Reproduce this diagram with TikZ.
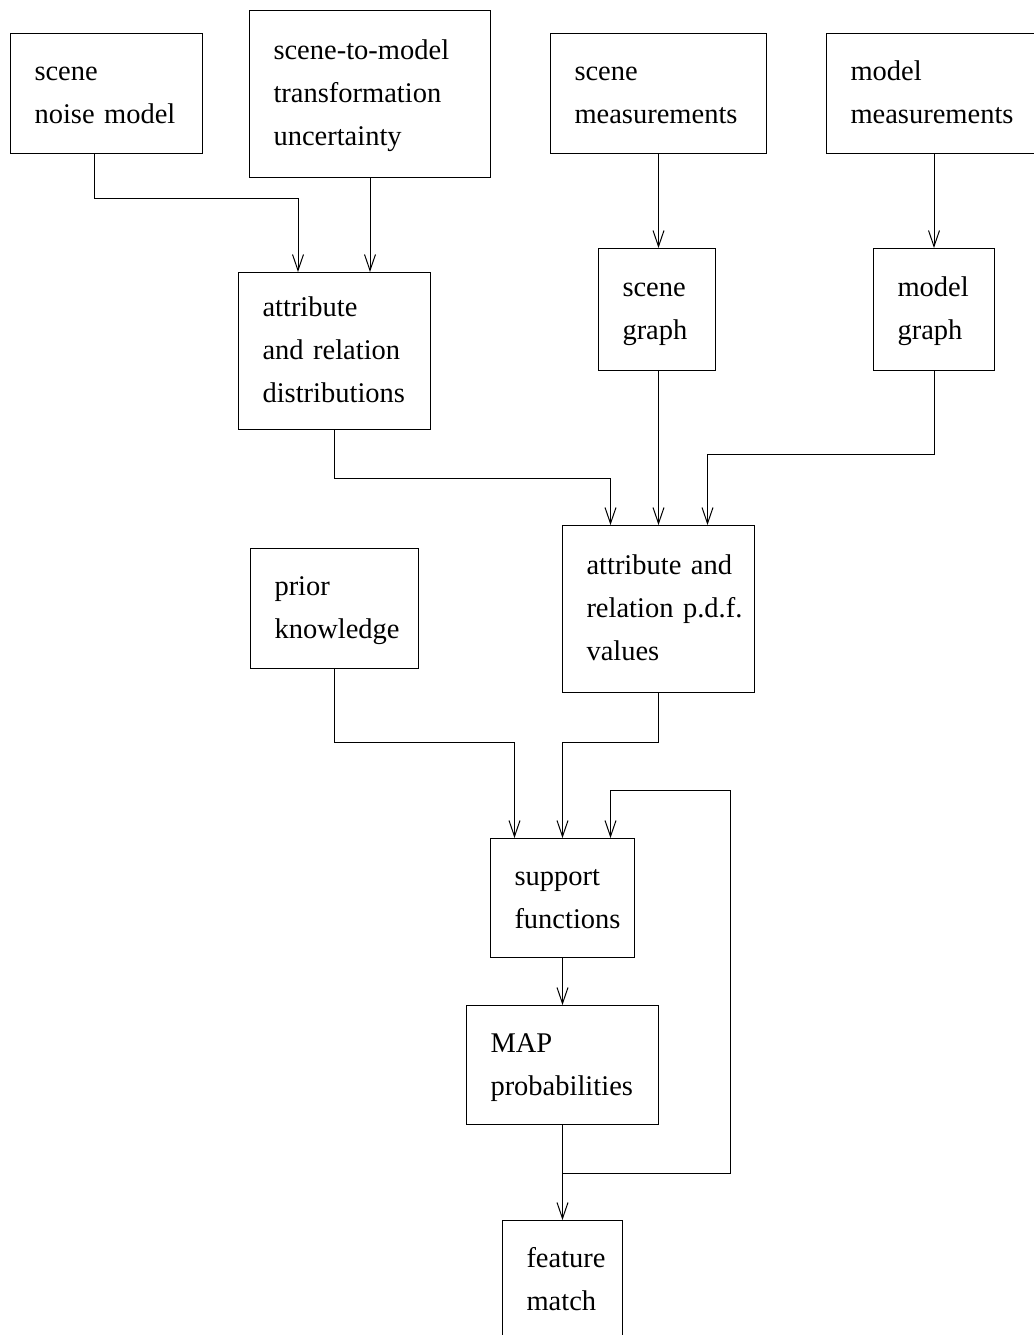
\documentclass[tikz,border=0pt]{standalone}
\usepackage{fontspec}
\setmainfont{Liberation Serif}
\usetikzlibrary{arrows.meta}

\begin{document}
\begin{tikzpicture}[
  x=1pt, y=-1pt,
  line width=1pt,
  every node/.style={font=\fontsize{28.5}{43}\selectfont},
  box/.style={draw, rectangle, anchor=north west, align=left,
    inner xsep=24pt, inner ysep=0pt,
    execute at begin node=\strut, execute at end node=\strut},
  flow/.style={-{Straight Barb[length=16pt,width=11pt]}}
]
  \useasboundingbox (0,0) rectangle (1033,1335);
  % inputs
  \node[box, text width=144pt, minimum height=120pt] (noise) at (10,33) {scene\\noise~model};
  \node[box, text width=193pt, minimum height=167pt] (trans) at (249,10) {scene-to-model\\transformation\\uncertainty};
  \node[box, text width=168pt, minimum height=120pt] (smeas) at (550,33) {scene\\measurements};
  \node[box, text width=170pt, minimum height=120pt] (mmeas) at (826,33) {model\\measurements};
  % graphs and distributions
  \node[box, text width=144pt, minimum height=157pt] (dist) at (238,272) {attribute\\and~relation\\distributions};
  \node[box, text width=69pt, minimum height=122pt] (sgraph) at (598,248) {scene\\graph};
  \node[box, text width=73pt, minimum height=122pt] (mgraph) at (873,248) {model\\graph};
  \node[box, text width=144pt, minimum height=167pt] (pdf) at (562,525) {attribute~and\\relation~p.d.f.\\values};
  \node[box, text width=120pt, minimum height=120pt] (prior) at (250,548) {prior\\knowledge};
  % matching
  \node[box, text width=96pt, minimum height=119pt] (support) at (490,838) {support\\functions};
  \node[box, text width=144pt, minimum height=119pt] (map) at (466,1005) {MAP\\probabilities};
  \node[box, text width=72pt, minimum height=120pt] (feature) at (502,1220) {feature\\match};
  \coordinate (fb) at (730,790);

  \draw[flow] ([xshift=-12pt]noise.south) -- ++(0,44) -| ([xshift=60pt]dist.north west);
  \draw[flow] (trans.south) -- (trans.south |- dist.north);
  \draw[flow] (smeas.south) -- (smeas.south |- sgraph.north);
  \draw[flow] (mmeas.south -| mgraph.north) -- (mgraph.north);
  \draw[flow] (dist.south) -- ++(0,48) -| ([xshift=-48pt]pdf.north);
  \draw[flow] (sgraph.south -| pdf.north) -- (pdf.north);
  \draw[flow] (mgraph.south) -- ++(0,83) -| ([xshift=49pt]pdf.north);
  \draw[flow] (prior.south) -- ++(0,73) -| ([xshift=-48pt]support.north);
  \draw[flow] (pdf.south) -- ++(0,49) -| (support.north);
  \draw[flow] (support.south) -- (map.north);
  \draw[flow] (map.south) -- (feature.north);
  \draw[flow] ([yshift=-48pt]map.south) -| (fb) -| ([xshift=48pt]support.north);
\end{tikzpicture}
\end{document}
